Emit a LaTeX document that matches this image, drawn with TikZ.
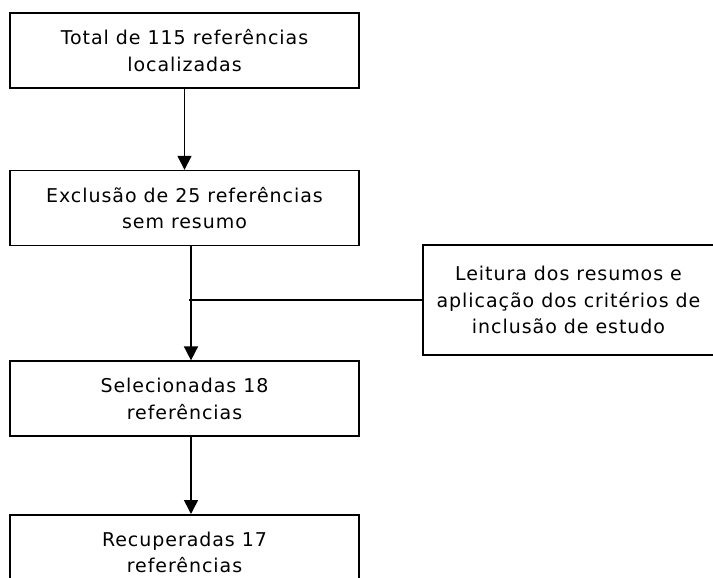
\documentclass[tikz,border=0pt]{standalone}
\usepackage{fontspec}
\setmainfont{DejaVu Sans}[LetterSpace=5]
\usepackage{tikz}
\usetikzlibrary{arrows.meta, positioning}
\tikzstyle{caixa} = [draw=black, line width=1.6pt, minimum width=349pt, minimum height=75pt, inner sep=0pt, align=center, font=\fontsize{19}{26.7}\selectfont]
\tikzstyle{seta} = [line width=1.6pt, -{Triangle[width=14pt,length=14pt]}]
\tikzstyle{linha} = [line width=1.6pt]

\begin{document}
\begin{tikzpicture}
        \useasboundingbox (0,0) rectangle (713pt,-578pt);

        \node[caixa] (box-1) at (184.5pt,-50.5pt) {Total de 115 referências\\localizadas};
        \node[caixa, below=81pt of box-1] (box-2) {Exclusão de 25 referências\\sem resumo};
        \node[caixa, below=114pt of box-2] (box-3) {Selecionadas 18\\referências};
        \node[caixa, below=77pt of box-3] (box-4) {Recuperadas 17\\referências};
        \node[caixa, minimum width=291pt, minimum height=110pt] (box-5) at (568.5pt,-300pt) {Leitura dos resumos e\\aplicação dos critérios de\\inclusão de estudo};

        \draw[seta] (box-1.south) -- (box-2.north);
        \draw[seta] ([xshift=6.5pt]box-2.south) -- ([xshift=6.5pt]box-3.north);
        \draw[seta] ([xshift=6.5pt]box-3.south) -- ([xshift=6.5pt]box-4.north);

        \coordinate (juncao) at ([xshift=4.5pt]box-5.west -| box-2.south);
        \draw[linha] (juncao) -- (box-5.west);
    \end{tikzpicture}
\end{document}
